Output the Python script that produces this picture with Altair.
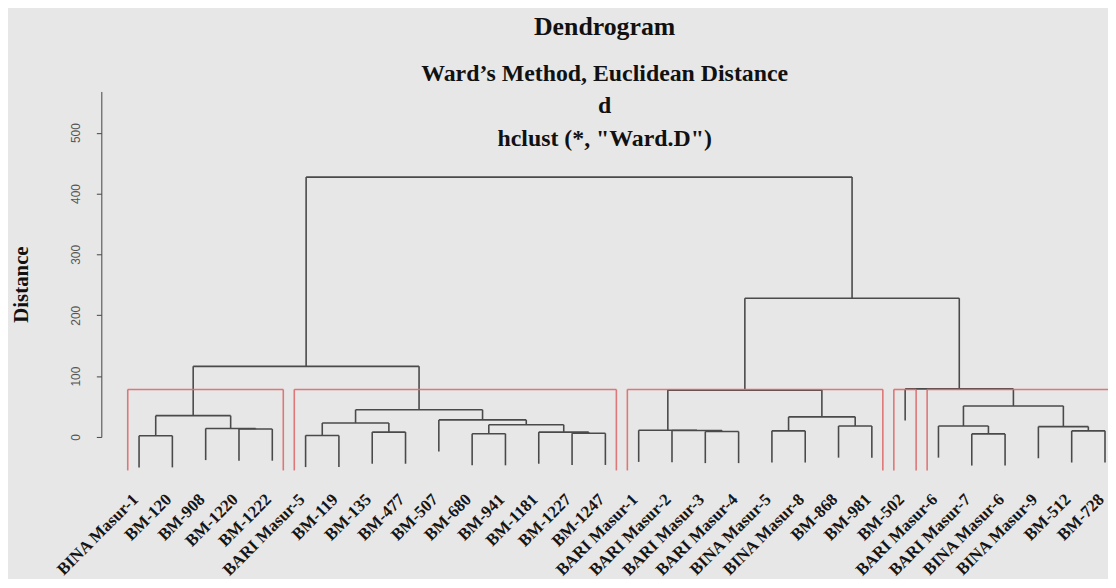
import altair as alt
import pandas as pd

# ---------------- data ----------------
LEAVES = [
    "BINA Masur-1", "BM-120", "BM-908", "BM-1220", "BM-1222",
    "BARI Masur-5", "BM-119", "BM-135", "BM-477", "BM-507", "BM-680",
    "BM-941", "BM-1181", "BM-1227", "BM-1247",
    "BARI Masur-1", "BARI Masur-2", "BARI Masur-3", "BARI Masur-4",
    "BINA Masur-5", "BINA Masur-8", "BM-868", "BM-981",
    "BM-502",
    "BARI Masur-6", "BARI Masur-7", "BINA Masur-6", "BINA Masur-9",
    "BM-512", "BM-728",
]

# R-style hclust merge table: negative = leaf (1-based), positive = earlier merge step
MERGE_LEFT = [-1, -6, -26, -11, -14, -8, -13, -18, -20, -29, -17, -16, -4, -3,
              -22, -25, -28, 4, 2, -10, 9, 1, 19, 16, 12, -24, 22, 25, 27]
MERGE_RIGHT = [-2, -7, -27, -12, -15, -9, 5, -19, -21, -30, 8, 11, -5, 13,
               -23, 3, 10, 7, 6, 18, 15, 14, 20, 17, 21, 24, 23, 26, 28]
MERGE_HEIGHT = [2, 2.5, 5, 5.4, 6, 8, 8, 9, 10, 10, 10.5, 11, 13, 14,
                18, 18, 17, 20, 23, 28, 33, 35, 44.7, 51, 77, 79, 116, 228, 427]

HANG = 52            # leaf hang below its merge height
K_CLUSTERS = 5       # rect.hclust(k = 5)
CLUSTER_FIRST = [1, 6, 16, 24, 25]
CLUSTER_LAST = [5, 15, 23, 24, 30]
RECT_BOTTOM = -55

Y_TICKS = [0, 100, 200, 300, 400, 500]
X_DOMAIN = [-0.133, 30.09]
Y_DOMAIN = [0, 567.7]

TITLE = "Dendrogram"
SUBTITLE = ["Ward\u2019s Method, Euclidean Distance", "d", "hclust (*, \"Ward.D\")"]
Y_TITLE = "Distance"

# ---------------- build dendrogram segments ----------------
pos = {}
segs = []
for i, (l, r, h) in enumerate(zip(MERGE_LEFT, MERGE_RIGHT, MERGE_HEIGHT), start=1):
    xs = []
    for c in (l, r):
        if c < 0:
            x, y0 = -c, h - HANG
        else:
            x, y0 = pos[c]
        segs.append(dict(x=x, x2=x, y=y0, y2=h))
        xs.append(x)
    segs.append(dict(x=xs[0], x2=xs[1], y=h, y2=h))
    pos[i] = ((xs[0] + xs[1]) / 2, h)
seg_df = pd.DataFrame(segs)

hs = sorted(MERGE_HEIGHT, reverse=True)
rect_top = (hs[K_CLUSTERS - 2] + hs[K_CLUSTERS - 1]) / 2
red = []
for a, b in zip(CLUSTER_FIRST, CLUSTER_LAST):
    xl, xr = a - 0.34, b + 0.33
    red.append(dict(x=xl, x2=xl, y=RECT_BOTTOM, y2=rect_top))
    red.append(dict(x=xr, x2=xr, y=RECT_BOTTOM, y2=rect_top))
    red.append(dict(x=xl, x2=xr, y=rect_top, y2=rect_top))
red_df = pd.DataFrame(red)

label_expr = "[" + ",".join("'" + n + "'" for n in LEAVES) + "][datum.value - 1]"

x_axis = alt.Axis(
    values=list(range(1, len(LEAVES) + 1)),
    labelExpr=label_expr,
    labelAngle=315,
    labelAlign="right",
    labelBaseline="middle",
    labelFont="Liberation Serif",
    labelFontWeight="bold",
    labelFontSize=17,
    labelColor="#151515",
    labelPadding=60,
    labelOffset=-4,
    labelOverlap=False,
    labelSeparation=0,
    labelBound=False,
    labelFlush=False,
    domain=False,
    ticks=False,
    grid=False,
    title="",
)
y_axis = alt.Axis(
    values=Y_TICKS,
    labelAngle=270,
    labelAlign="center",
    labelBaseline="bottom",
    labelFont="Liberation Sans",
    labelFontSize=12,
    labelColor="#555555",
    labelPadding=14,
    tickSize=5,
    tickColor="#444444",
    domainColor="#444444",
    grid=False,
    title=Y_TITLE,
    titleFont="Liberation Serif",
    titleFontWeight="bold",
    titleFontSize=21,
    titleColor="#111111",
    titleAngle=270,
    titleBaseline="middle",
    titleAlign="center",
    titleX=-80,
    titleY=194,
)
x_scale = alt.Scale(domain=X_DOMAIN, nice=False, zero=False)
y_scale = alt.Scale(domain=Y_DOMAIN, nice=False, zero=False)

tree = alt.Chart(seg_df).mark_rule(color="#4a4a4a", strokeWidth=1.6).encode(
    x=alt.X("x:Q", scale=x_scale, axis=x_axis),
    x2="x2:Q",
    y=alt.Y("y:Q", scale=y_scale, axis=y_axis),
    y2="y2:Q",
)
rects = alt.Chart(red_df).mark_rule(color="#dd6a6a", strokeWidth=1.6, opacity=0.9).encode(
    x=alt.X("x:Q", scale=x_scale, axis=x_axis),
    x2="x2:Q",
    y=alt.Y("y:Q", scale=y_scale, axis=y_axis),
    y2="y2:Q",
)

chart = (
    alt.layer(tree, rects)
    .properties(
        width=1014,
        height=348,
        background="#e7e7e7",
        autosize=alt.AutoSizeParams(type="none"),
        padding={"left": 94, "top": 82, "right": 0, "bottom": 141},
        title=alt.TitleParams(
            text=TITLE,
            subtitle=SUBTITLE,
            anchor="middle",
            frame="group",
            offset=-60,
            font="Liberation Serif",
            fontSize=26,
            fontWeight="bold",
            color="#111111",
            subtitleFont="Liberation Serif",
            subtitleFontSize=24,
            subtitleFontWeight="bold",
            subtitleColor="#111111",
            subtitleLineHeight=33,
            subtitlePadding=22,
        ),
    )
    .configure_view(stroke="transparent")
)

chart.save("out.html", embed_options={"renderer": "svg", "actions": False})
